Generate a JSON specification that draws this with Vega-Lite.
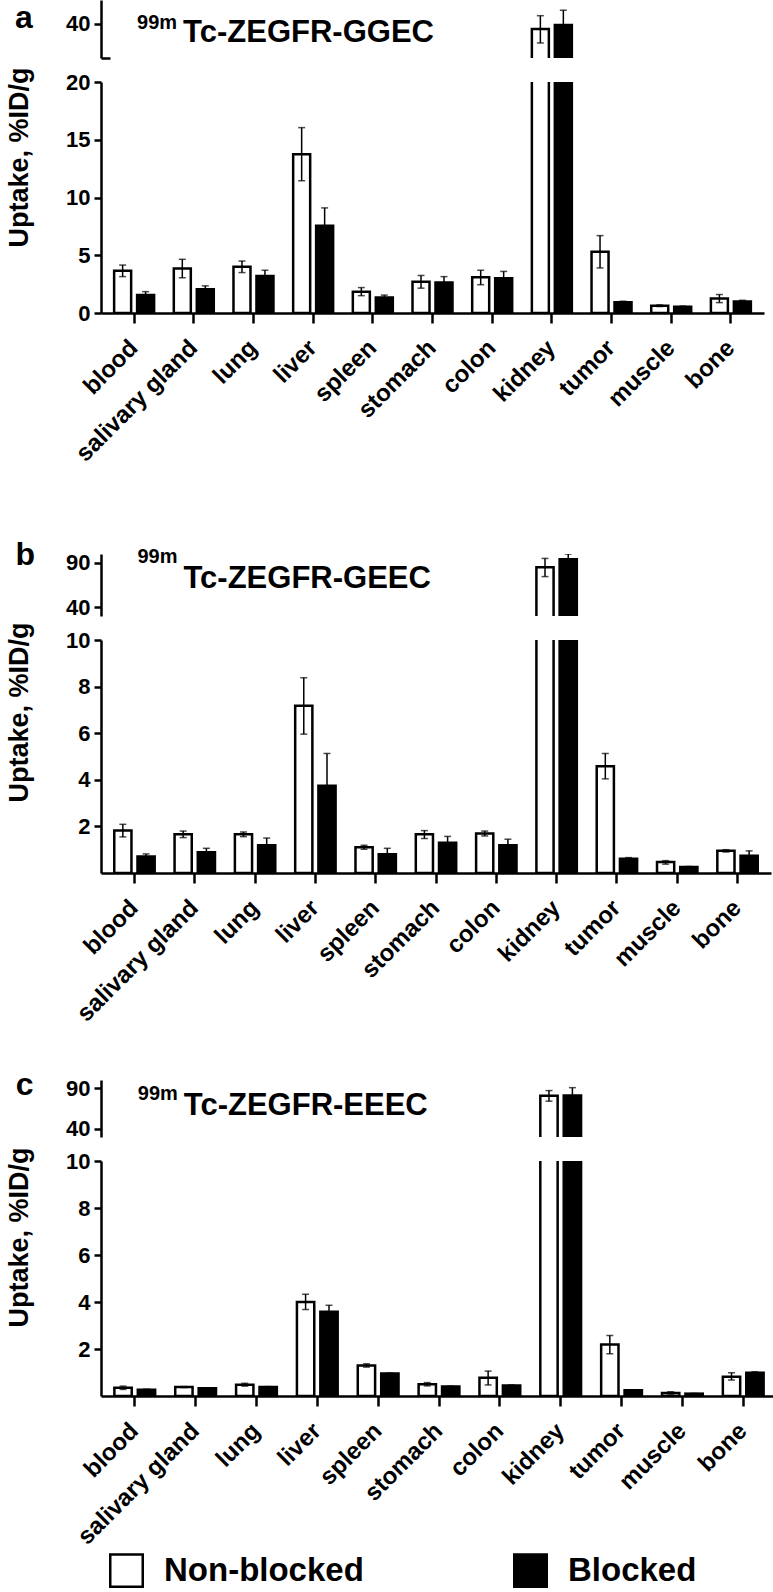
{
  "$schema": "https://vega.github.io/schema/vega-lite/v6.json",
  "background": "white",
  "padding": {"left": 5, "top": 0, "right": 0, "bottom": 0},
  "datasets": {
    "main": [
      {"panel": "a", "organ": "blood", "cond": "Non-blocked", "mean": 3.65, "lo": 3.15, "hi": 4.15},
      {"panel": "a", "organ": "blood", "cond": "Blocked", "mean": 1.55, "lo": 1.25, "hi": 1.85},
      {"panel": "a", "organ": "salivary gland", "cond": "Non-blocked", "mean": 3.85, "lo": 3.05, "hi": 4.65},
      {"panel": "a", "organ": "salivary gland", "cond": "Blocked", "mean": 2.05, "lo": 1.75, "hi": 2.35},
      {"panel": "a", "organ": "lung", "cond": "Non-blocked", "mean": 4.0, "lo": 3.5, "hi": 4.5},
      {"panel": "a", "organ": "lung", "cond": "Blocked", "mean": 3.2, "lo": 2.75, "hi": 3.7},
      {"panel": "a", "organ": "liver", "cond": "Non-blocked", "mean": 13.75, "lo": 11.45, "hi": 16.05},
      {"panel": "a", "organ": "liver", "cond": "Blocked", "mean": 7.55, "lo": 6.0, "hi": 9.1},
      {"panel": "a", "organ": "spleen", "cond": "Non-blocked", "mean": 1.85, "lo": 1.5, "hi": 2.2},
      {"panel": "a", "organ": "spleen", "cond": "Blocked", "mean": 1.35, "lo": 1.15, "hi": 1.55},
      {"panel": "a", "organ": "stomach", "cond": "Non-blocked", "mean": 2.7, "lo": 2.15, "hi": 3.25},
      {"panel": "a", "organ": "stomach", "cond": "Blocked", "mean": 2.65, "lo": 2.15, "hi": 3.15},
      {"panel": "a", "organ": "colon", "cond": "Non-blocked", "mean": 3.1, "lo": 2.45, "hi": 3.7},
      {"panel": "a", "organ": "colon", "cond": "Blocked", "mean": 3.0, "lo": 2.4, "hi": 3.6},
      {"panel": "a", "organ": "kidney", "cond": "Non-blocked", "mean": 38.5, "lo": 34.4, "hi": 42.4},
      {"panel": "a", "organ": "kidney", "cond": "Blocked", "mean": 39.7, "lo": 35.4, "hi": 44.0},
      {"panel": "a", "organ": "tumor", "cond": "Non-blocked", "mean": 5.3, "lo": 3.9, "hi": 6.7},
      {"panel": "a", "organ": "tumor", "cond": "Blocked", "mean": 0.92, "lo": 0.82, "hi": 1.02},
      {"panel": "a", "organ": "muscle", "cond": "Non-blocked", "mean": 0.63, "lo": 0.56, "hi": 0.7},
      {"panel": "a", "organ": "muscle", "cond": "Blocked", "mean": 0.55, "lo": 0.5, "hi": 0.6},
      {"panel": "a", "organ": "bone", "cond": "Non-blocked", "mean": 1.25, "lo": 0.9, "hi": 1.6},
      {"panel": "a", "organ": "bone", "cond": "Blocked", "mean": 1.0, "lo": 0.9, "hi": 1.1},

      {"panel": "b", "organ": "blood", "cond": "Non-blocked", "mean": 1.82, "lo": 1.55, "hi": 2.09},
      {"panel": "b", "organ": "blood", "cond": "Blocked", "mean": 0.71, "lo": 0.61, "hi": 0.82},
      {"panel": "b", "organ": "salivary gland", "cond": "Non-blocked", "mean": 1.66, "lo": 1.52, "hi": 1.8},
      {"panel": "b", "organ": "salivary gland", "cond": "Blocked", "mean": 0.89, "lo": 0.72, "hi": 1.06},
      {"panel": "b", "organ": "lung", "cond": "Non-blocked", "mean": 1.66, "lo": 1.56, "hi": 1.76},
      {"panel": "b", "organ": "lung", "cond": "Blocked", "mean": 1.19, "lo": 0.88, "hi": 1.5},
      {"panel": "b", "organ": "liver", "cond": "Non-blocked", "mean": 7.18, "lo": 5.96, "hi": 8.38},
      {"panel": "b", "organ": "liver", "cond": "Blocked", "mean": 3.74, "lo": 2.35, "hi": 5.13},
      {"panel": "b", "organ": "spleen", "cond": "Non-blocked", "mean": 1.1, "lo": 1.02, "hi": 1.19},
      {"panel": "b", "organ": "spleen", "cond": "Blocked", "mean": 0.81, "lo": 0.56, "hi": 1.06},
      {"panel": "b", "organ": "stomach", "cond": "Non-blocked", "mean": 1.66, "lo": 1.48, "hi": 1.82},
      {"panel": "b", "organ": "stomach", "cond": "Blocked", "mean": 1.3, "lo": 1.03, "hi": 1.57},
      {"panel": "b", "organ": "colon", "cond": "Non-blocked", "mean": 1.7, "lo": 1.59, "hi": 1.8},
      {"panel": "b", "organ": "colon", "cond": "Blocked", "mean": 1.19, "lo": 0.93, "hi": 1.45},
      {"panel": "b", "organ": "kidney", "cond": "Non-blocked", "mean": 85.0, "lo": 74.5, "hi": 95.0},
      {"panel": "b", "organ": "kidney", "cond": "Blocked", "mean": 94.0, "lo": 88.0, "hi": 100.0},
      {"panel": "b", "organ": "tumor", "cond": "Non-blocked", "mean": 4.58, "lo": 4.04, "hi": 5.13},
      {"panel": "b", "organ": "tumor", "cond": "Blocked", "mean": 0.61, "lo": 0.56, "hi": 0.66},
      {"panel": "b", "organ": "muscle", "cond": "Non-blocked", "mean": 0.47, "lo": 0.38, "hi": 0.53},
      {"panel": "b", "organ": "muscle", "cond": "Blocked", "mean": 0.26, "lo": 0.24, "hi": 0.28},
      {"panel": "b", "organ": "bone", "cond": "Non-blocked", "mean": 0.95, "lo": 0.9, "hi": 1.0},
      {"panel": "b", "organ": "bone", "cond": "Blocked", "mean": 0.74, "lo": 0.53, "hi": 0.95},

      {"panel": "c", "organ": "blood", "cond": "Non-blocked", "mean": 0.35, "lo": 0.28, "hi": 0.42},
      {"panel": "c", "organ": "blood", "cond": "Blocked", "mean": 0.27, "lo": 0.25, "hi": 0.29},
      {"panel": "c", "organ": "salivary gland", "cond": "Non-blocked", "mean": 0.38, "lo": 0.36, "hi": 0.4},
      {"panel": "c", "organ": "salivary gland", "cond": "Blocked", "mean": 0.33, "lo": 0.31, "hi": 0.35},
      {"panel": "c", "organ": "lung", "cond": "Non-blocked", "mean": 0.48, "lo": 0.42, "hi": 0.54},
      {"panel": "c", "organ": "lung", "cond": "Blocked", "mean": 0.38, "lo": 0.36, "hi": 0.4},
      {"panel": "c", "organ": "liver", "cond": "Non-blocked", "mean": 4.0, "lo": 3.68, "hi": 4.33},
      {"panel": "c", "organ": "liver", "cond": "Blocked", "mean": 3.58, "lo": 3.3, "hi": 3.86},
      {"panel": "c", "organ": "spleen", "cond": "Non-blocked", "mean": 1.3, "lo": 1.23, "hi": 1.37},
      {"panel": "c", "organ": "spleen", "cond": "Blocked", "mean": 0.96, "lo": 0.94, "hi": 0.98},
      {"panel": "c", "organ": "stomach", "cond": "Non-blocked", "mean": 0.5, "lo": 0.43, "hi": 0.57},
      {"panel": "c", "organ": "stomach", "cond": "Blocked", "mean": 0.4, "lo": 0.38, "hi": 0.42},
      {"panel": "c", "organ": "colon", "cond": "Non-blocked", "mean": 0.78, "lo": 0.47, "hi": 1.06},
      {"panel": "c", "organ": "colon", "cond": "Blocked", "mean": 0.45, "lo": 0.43, "hi": 0.47},
      {"panel": "c", "organ": "kidney", "cond": "Non-blocked", "mean": 80.8, "lo": 74.0, "hi": 87.0},
      {"panel": "c", "organ": "kidney", "cond": "Blocked", "mean": 81.0, "lo": 71.5, "hi": 90.6},
      {"panel": "c", "organ": "tumor", "cond": "Non-blocked", "mean": 2.19, "lo": 1.8, "hi": 2.57},
      {"panel": "c", "organ": "tumor", "cond": "Blocked", "mean": 0.24, "lo": 0.22, "hi": 0.26},
      {"panel": "c", "organ": "muscle", "cond": "Non-blocked", "mean": 0.13, "lo": 0.08, "hi": 0.18},
      {"panel": "c", "organ": "muscle", "cond": "Blocked", "mean": 0.1, "lo": 0.09, "hi": 0.11},
      {"panel": "c", "organ": "bone", "cond": "Non-blocked", "mean": 0.82, "lo": 0.68, "hi": 0.99},
      {"panel": "c", "organ": "bone", "cond": "Blocked", "mean": 0.99, "lo": 0.95, "hi": 1.03}
    ]
  },
  "bounds": "flush",
  "spacing": 24,
  "resolve": {"scale": {"x": "independent", "y": "independent", "xOffset": "independent", "fill": "shared"}, "axis": {"x": "independent", "y": "independent"}, "legend": {"fill": "shared"}},
  "vconcat": [
    {
      "width": 663, "height": 58,
      "layer": [
        {
          "data": {"name": "main"},
          "transform": [{"filter": "datum.panel == 'a'"}],
          "encoding": {
            "x": {"field": "organ", "type": "nominal", "sort": null, "scale": {"paddingInner": 0.33, "paddingOuter": 0.22}, "axis": null},
            "xOffset": {"field": "cond", "type": "nominal", "sort": ["Non-blocked", "Blocked"], "scale": {"paddingInner": 0.26}}
          },
          "layer": [
            {"mark": {"type": "bar", "clip": true, "stroke": "black", "strokeWidth": 2.5},
             "encoding": {
               "y": {"field": "mean", "type": "quantitative", "scale": {"domain": [30, 47], "nice": false, "zero": false},
                     "axis": {"values": [30, 40], "title": null, "labelExpr": "datum.value == 30 ? '' : datum.label",
                              "tickSize": {"condition": {"test": "datum.value == 30", "value": -9}, "value": 7}}},
               "y2": {"datum": 0},
               "fill": {"field": "cond", "type": "nominal", "scale": {"domain": ["Non-blocked", "Blocked"], "range": ["white", "black"]}}
             }},
            {"mark": {"type": "rule", "clip": true, "color": "black", "strokeWidth": 1.5}, "encoding": {"y": {"field": "lo", "type": "quantitative"}, "y2": {"field": "hi"}}},
            {"mark": {"type": "tick", "clip": true, "color": "black", "thickness": 1.5, "size": 7}, "encoding": {"y": {"field": "hi", "type": "quantitative"}}},
            {"mark": {"type": "tick", "clip": true, "color": "black", "thickness": 1.5, "size": 7}, "encoding": {"y": {"field": "lo", "type": "quantitative"}}}
          ]
        },
        {"data": {"values": [{"t": "a"}]}, "mark": {"type": "text", "align": "left", "baseline": "alphabetic", "fontSize": 32, "dx": -119},
         "encoding": {"x": {"datum": "blood"}, "y": {"datum": 38.8}, "text": {"field": "t"}}},
        {"data": {"values": [{"t": "99m"}]}, "mark": {"type": "text", "align": "left", "baseline": "alphabetic", "fontSize": 20, "dx": 3},
         "encoding": {"x": {"datum": "blood"}, "y": {"datum": 38.5}, "text": {"field": "t"}}},
        {"data": {"values": [{"t": "Tc-ZEGFR-GGEC"}]}, "mark": {"type": "text", "align": "left", "baseline": "alphabetic", "fontSize": 31, "dx": 49},
         "encoding": {"x": {"datum": "blood"}, "y": {"datum": 34.7}, "text": {"field": "t"}}}
      ]
    },
    {
      "width": 663, "height": 231,
      "data": {"name": "main"},
      "transform": [{"filter": "datum.panel == 'a'"}],
      "encoding": {
        "x": {"field": "organ", "type": "nominal", "sort": null, "scale": {"paddingInner": 0.33, "paddingOuter": 0.22}, "axis": {"title": null}},
        "xOffset": {"field": "cond", "type": "nominal", "sort": ["Non-blocked", "Blocked"], "scale": {"paddingInner": 0.26}}
      },
      "layer": [
        {"mark": {"type": "bar", "clip": true, "stroke": "black", "strokeWidth": 2.5},
         "encoding": {
           "y": {"field": "mean", "type": "quantitative", "scale": {"domain": [0, 20], "nice": false},
                 "axis": {"values": [0, 5, 10, 15, 20], "title": "Uptake, %ID/g", "titleY": 75}},
           "y2": {"datum": 0},
           "fill": {"field": "cond", "type": "nominal", "scale": {"domain": ["Non-blocked", "Blocked"], "range": ["white", "black"]}}
         }},
        {"mark": {"type": "rule", "clip": true, "color": "black", "strokeWidth": 1.5}, "encoding": {"y": {"field": "lo", "type": "quantitative", "title": "Uptake, %ID/g"}, "y2": {"field": "hi"}}},
        {"mark": {"type": "tick", "clip": true, "color": "black", "thickness": 1.5, "size": 7}, "encoding": {"y": {"field": "hi", "type": "quantitative", "title": "Uptake, %ID/g"}}},
        {"mark": {"type": "tick", "clip": true, "color": "black", "thickness": 1.5, "size": 7}, "encoding": {"y": {"field": "lo", "type": "quantitative", "title": "Uptake, %ID/g"}}}
      ]
    },
    {"width": 663, "height": 193, "data": {"values": [{"t": ""}]}, "mark": {"type": "text"}, "encoding": {"text": {"field": "t"}}},
    {
      "width": 670, "height": 62,
      "layer": [
        {
          "data": {"name": "main"},
          "transform": [{"filter": "datum.panel == 'b'"}],
          "encoding": {
            "x": {"field": "organ", "type": "nominal", "sort": null, "scale": {"paddingInner": 0.33, "paddingOuter": 0.22}, "axis": null},
            "xOffset": {"field": "cond", "type": "nominal", "sort": ["Non-blocked", "Blocked"], "scale": {"paddingInner": 0.26}}
          },
          "layer": [
            {"mark": {"type": "bar", "clip": true, "stroke": "black", "strokeWidth": 2.5},
             "encoding": {
               "y": {"field": "mean", "type": "quantitative", "scale": {"domain": [30, 100], "nice": false, "zero": false},
                     "axis": {"values": [40, 90], "title": null}},
               "y2": {"datum": 0},
               "fill": {"field": "cond", "type": "nominal", "scale": {"domain": ["Non-blocked", "Blocked"], "range": ["white", "black"]}}
             }},
            {"mark": {"type": "rule", "clip": true, "color": "black", "strokeWidth": 1.5}, "encoding": {"y": {"field": "lo", "type": "quantitative"}, "y2": {"field": "hi"}}},
            {"mark": {"type": "tick", "clip": true, "color": "black", "thickness": 1.5, "size": 7}, "encoding": {"y": {"field": "hi", "type": "quantitative"}}},
            {"mark": {"type": "tick", "clip": true, "color": "black", "thickness": 1.5, "size": 7}, "encoding": {"y": {"field": "lo", "type": "quantitative"}}}
          ]
        },
        {"data": {"values": [{"t": "b"}]}, "mark": {"type": "text", "align": "left", "baseline": "alphabetic", "fontSize": 32, "dx": -119},
         "encoding": {"x": {"datum": "blood"}, "y": {"datum": 87.6}, "text": {"field": "t"}}},
        {"data": {"values": [{"t": "99m"}]}, "mark": {"type": "text", "align": "left", "baseline": "alphabetic", "fontSize": 20, "dx": 3},
         "encoding": {"x": {"datum": "blood"}, "y": {"datum": 89.8}, "text": {"field": "t"}}},
        {"data": {"values": [{"t": "Tc-ZEGFR-GEEC"}]}, "mark": {"type": "text", "align": "left", "baseline": "alphabetic", "fontSize": 31, "dx": 49},
         "encoding": {"x": {"datum": "blood"}, "y": {"datum": 61.6}, "text": {"field": "t"}}}
      ]
    },
    {
      "width": 670, "height": 233,
      "data": {"name": "main"},
      "transform": [{"filter": "datum.panel == 'b'"}],
      "encoding": {
        "x": {"field": "organ", "type": "nominal", "sort": null, "scale": {"paddingInner": 0.33, "paddingOuter": 0.22}, "axis": {"title": null}},
        "xOffset": {"field": "cond", "type": "nominal", "sort": ["Non-blocked", "Blocked"], "scale": {"paddingInner": 0.26}}
      },
      "layer": [
        {"mark": {"type": "bar", "clip": true, "stroke": "black", "strokeWidth": 2.5},
         "encoding": {
           "y": {"field": "mean", "type": "quantitative", "scale": {"domain": [0, 10], "nice": false},
                 "axis": {"values": [2, 4, 6, 8, 10], "title": "Uptake, %ID/g", "titleY": 72}},
           "y2": {"datum": 0},
           "fill": {"field": "cond", "type": "nominal", "scale": {"domain": ["Non-blocked", "Blocked"], "range": ["white", "black"]}}
         }},
        {"mark": {"type": "rule", "clip": true, "color": "black", "strokeWidth": 1.5}, "encoding": {"y": {"field": "lo", "type": "quantitative", "title": "Uptake, %ID/g"}, "y2": {"field": "hi"}}},
        {"mark": {"type": "tick", "clip": true, "color": "black", "thickness": 1.5, "size": 7}, "encoding": {"y": {"field": "hi", "type": "quantitative", "title": "Uptake, %ID/g"}}},
        {"mark": {"type": "tick", "clip": true, "color": "black", "thickness": 1.5, "size": 7}, "encoding": {"y": {"field": "lo", "type": "quantitative", "title": "Uptake, %ID/g"}}}
      ]
    },
    {"width": 670, "height": 159, "data": {"values": [{"t": ""}]}, "mark": {"type": "text"}, "encoding": {"text": {"field": "t"}}},
    {
      "width": 676, "height": 57,
      "layer": [
        {
          "data": {"name": "main"},
          "transform": [{"filter": "datum.panel == 'c'"}],
          "encoding": {
            "x": {"field": "organ", "type": "nominal", "sort": null, "scale": {"paddingInner": 0.33, "paddingOuter": 0.22}, "axis": null},
            "xOffset": {"field": "cond", "type": "nominal", "sort": ["Non-blocked", "Blocked"], "scale": {"paddingInner": 0.26}}
          },
          "layer": [
            {"mark": {"type": "bar", "clip": true, "stroke": "black", "strokeWidth": 2.5},
             "encoding": {
               "y": {"field": "mean", "type": "quantitative", "scale": {"domain": [30, 100], "nice": false, "zero": false},
                     "axis": {"values": [40, 90], "title": null}},
               "y2": {"datum": 0},
               "fill": {"field": "cond", "type": "nominal", "scale": {"domain": ["Non-blocked", "Blocked"], "range": ["white", "black"]}}
             }},
            {"mark": {"type": "rule", "clip": true, "color": "black", "strokeWidth": 1.5}, "encoding": {"y": {"field": "lo", "type": "quantitative"}, "y2": {"field": "hi"}}},
            {"mark": {"type": "tick", "clip": true, "color": "black", "thickness": 1.5, "size": 7}, "encoding": {"y": {"field": "hi", "type": "quantitative"}}},
            {"mark": {"type": "tick", "clip": true, "color": "black", "thickness": 1.5, "size": 7}, "encoding": {"y": {"field": "lo", "type": "quantitative"}}}
          ]
        },
        {"data": {"values": [{"t": "c"}]}, "mark": {"type": "text", "align": "left", "baseline": "alphabetic", "fontSize": 32, "dx": -119},
         "encoding": {"x": {"datum": "blood"}, "y": {"datum": 81.6}, "text": {"field": "t"}}},
        {"data": {"values": [{"t": "99m"}]}, "mark": {"type": "text", "align": "left", "baseline": "alphabetic", "fontSize": 20, "dx": 3},
         "encoding": {"x": {"datum": "blood"}, "y": {"datum": 75.4}, "text": {"field": "t"}}},
        {"data": {"values": [{"t": "Tc-ZEGFR-EEEC"}]}, "mark": {"type": "text", "align": "left", "baseline": "alphabetic", "fontSize": 31, "dx": 49},
         "encoding": {"x": {"datum": "blood"}, "y": {"datum": 57}, "text": {"field": "t"}}}
      ]
    },
    {
      "width": 676, "height": 235,
      "data": {"name": "main"},
      "transform": [{"filter": "datum.panel == 'c'"}],
      "encoding": {
        "x": {"field": "organ", "type": "nominal", "sort": null, "scale": {"paddingInner": 0.33, "paddingOuter": 0.22}, "axis": {"title": null}},
        "xOffset": {"field": "cond", "type": "nominal", "sort": ["Non-blocked", "Blocked"], "scale": {"paddingInner": 0.26}}
      },
      "layer": [
        {"mark": {"type": "bar", "clip": true, "stroke": "black", "strokeWidth": 2.5},
         "encoding": {
           "y": {"field": "mean", "type": "quantitative", "scale": {"domain": [0, 10], "nice": false},
                 "axis": {"values": [2, 4, 6, 8, 10], "title": "Uptake, %ID/g", "titleY": 76}},
           "y2": {"datum": 0},
           "fill": {"field": "cond", "type": "nominal", "scale": {"domain": ["Non-blocked", "Blocked"], "range": ["white", "black"]}}
         }},
        {"mark": {"type": "rule", "clip": true, "color": "black", "strokeWidth": 1.5}, "encoding": {"y": {"field": "lo", "type": "quantitative", "title": "Uptake, %ID/g"}, "y2": {"field": "hi"}}},
        {"mark": {"type": "tick", "clip": true, "color": "black", "thickness": 1.5, "size": 7}, "encoding": {"y": {"field": "hi", "type": "quantitative", "title": "Uptake, %ID/g"}}},
        {"mark": {"type": "tick", "clip": true, "color": "black", "thickness": 1.5, "size": 7}, "encoding": {"y": {"field": "lo", "type": "quantitative", "title": "Uptake, %ID/g"}}}
      ]
    }
  ],
  "config": {
    "font": "Liberation Sans",
    "view": {"stroke": null},
    "text": {"font": "Liberation Sans", "fontWeight": "bold", "color": "black"},
    "axis": {
      "domainColor": "black", "domainWidth": 2.5, "tickColor": "black", "tickWidth": 2.5, "grid": false,
      "labelFont": "Liberation Sans", "labelFontWeight": "bold", "labelColor": "black",
      "titleFont": "Liberation Sans", "titleFontWeight": "bold", "titleColor": "black"
    },
    "axisY": {"tickSize": 7, "labelFontSize": 22, "labelPadding": 4, "labelOverlap": false, "titleFontSize": 27, "titlePadding": 32},
    "axisX": {"tickSize": 10, "labelFontSize": 24, "labelAngle": -45, "labelAlign": "right", "labelBaseline": "middle", "labelPadding": 21, "labelLimit": 400},
    "legend": {
      "orient": "none", "legendX": 8, "legendY": 1553, "direction": "horizontal", "title": null, "padding": 0,
      "symbolType": "square", "symbolSize": 1056, "symbolStrokeColor": "black", "symbolStrokeWidth": 2.5,
      "labelFont": "Liberation Sans", "labelFontWeight": "bold", "labelFontSize": 33, "labelColor": "black",
      "labelOffset": 20, "columnPadding": 145, "labelLimit": 400
    }
  }
}
